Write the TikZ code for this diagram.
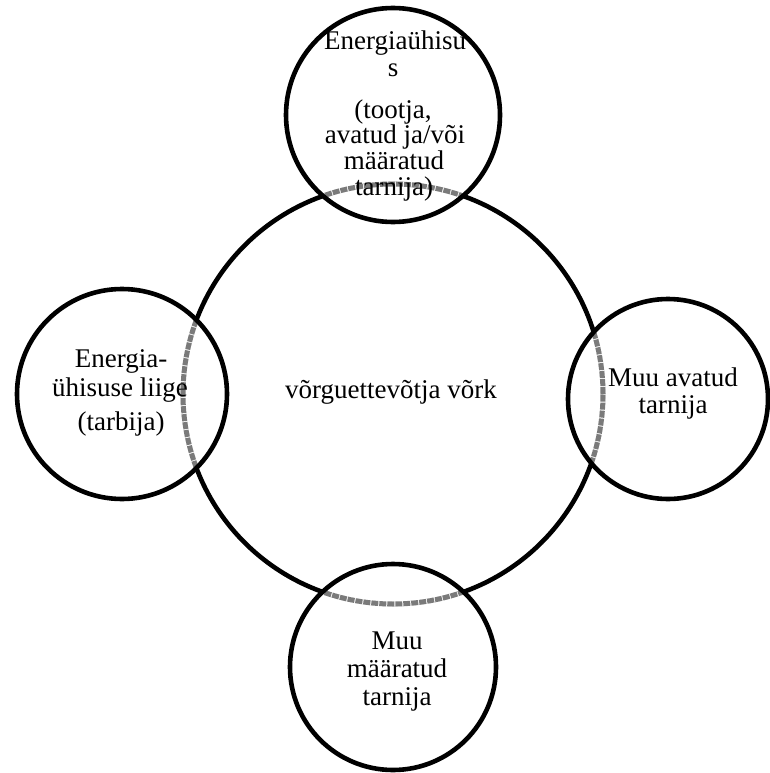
\documentclass[tikz,border=0pt]{standalone}
\usepackage{fontspec}
\setmainfont{Liberation Serif}
\begin{document}
\begin{tikzpicture}[x=1pt,y=-1pt,
  ring/.style={draw=black, line width=4.6pt, circle, inner sep=0pt, outer sep=0pt},
  overlap/.style={draw=black!52, line width=5pt, dash pattern=on 7pt off 1pt},
  lbl/.style={anchor=base, inner sep=0pt, font=\fontsize{27}{30}\selectfont}]
\useasboundingbox (0,0) rectangle (769,773);

% centres of the network circle and the four party circles
\coordinate (cNet) at (393,394);
\coordinate (cTop) at (393,115);
\coordinate (cLeft) at (122,394);
\coordinate (cRight) at (668,399);
\coordinate (cBottom) at (393,667);

% the grid operator's network
\node[ring, minimum size=420pt] (net) at (cNet) {};

% grey hatched band where the network runs inside each party circle
\foreach \c/\r in {cTop/107pt, cLeft/105pt, cRight/100pt, cBottom/103pt}{
  \begin{scope}
    \clip (\c) circle (\r);
    \draw[white, line width=5.5pt] (cNet) circle (210pt);
    \draw[overlap] (cNet) circle (210pt);
  \end{scope}
}

% party circles
\node[ring, minimum size=214pt] (top) at (cTop) {};
\node[ring, minimum size=210pt] (left) at (cLeft) {};
\node[ring, minimum size=200pt] (right) at (cRight) {};
\node[ring, minimum size=206pt] (bottom) at (cBottom) {};

% labels
\node[lbl] (netA) at (391,398) {võrguettevõtja võrk};

\node[lbl] (topA) at (395,50) {Energiaühisu};
\node[lbl] (topB) at (393,77) {s};
\node[lbl] (topC) at (393,118) {(tootja,};
\node[lbl] (topD) at (395,143) {avatud ja/või};
\node[lbl] (topE) at (394,169) {määratud};
\node[lbl] (topF) at (394,195) {tarnija)};

\node[lbl] (leftA) at (121,367) {Energia-};
\node[lbl] (leftB) at (120,396) {ühisuse liige};
\node[lbl] (leftC) at (121,430) {(tarbija)};

\node[lbl] (rightA) at (673,386) {Muu avatud};
\node[lbl] (rightB) at (673,413) {tarnija};

\node[lbl] (bottomA) at (397,649) {Muu};
\node[lbl] (bottomB) at (397,677) {määratud};
\node[lbl] (bottomC) at (397,705) {tarnija};
\end{tikzpicture}
\end{document}
